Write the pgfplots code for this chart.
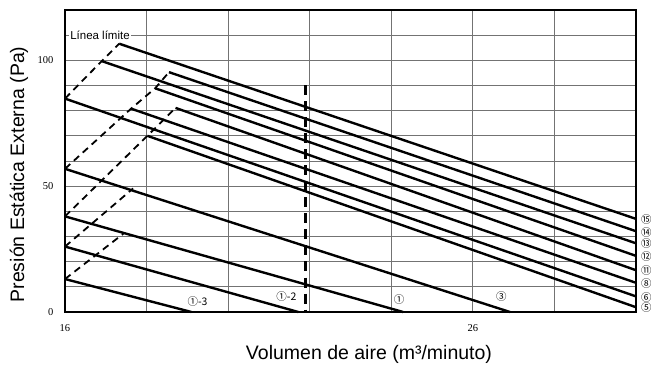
\documentclass[border=0pt]{standalone}
\usepackage{fontspec}
\setmainfont{Liberation Sans}
\newfontfamily\numfont{Liberation Serif}
\newfontfamily\circfont{Noto Sans CJK SC}
\usepackage{pgfplots}
\pgfplotsset{compat=1.18}

\tikzset{
  fan/.style={line width=2.4bp, black},
  limit/.style={line width=1.8bp, black, dash pattern=on 7bp off 5bp},
  lbl/.style={font=\circfont\fontsize{10.5bp}{12bp}\selectfont, inner sep=1bp},
}

\begin{document}
\begin{tikzpicture}
\path[use as bounding box] (-65bp,-60bp) rectangle (586bp,312bp);
\begin{axis}[
  at={(0,0)}, anchor=south west,
  width=571bp, height=302bp, scale only axis,
  xmin=16, xmax=30, ymin=0, ymax=120,
  xtick={16,18,...,30}, xticklabels={16,,,,,26,,},
  ytick={0,10,...,120}, yticklabels={0,,,,,50,,,,,100,,},
  major tick length=0pt,
  grid=major, grid style={black!55, line width=0.8bp},
  axis line style={line width=2.6bp},
  tick label style={font=\numfont\fontsize{10.5bp}{12bp}\selectfont},
  /pgf/number format/assume math mode=true,
  xticklabel style={yshift=-9bp},
  yticklabel style={xshift=-8bp},
  clip=false,
]
% curvas (de arriba a abajo en el extremo derecho)
\addplot[fan] coordinates {(17.33,106.6) (30,37.0)};   % 15
\addplot[fan] coordinates {(18.55,95.3) (30,32.1)};    % 14
\addplot[fan] coordinates {(16.9,99.7) (30,27.3)};     % 13
\addplot[fan] coordinates {(18.21,88.9) (30,22.3)};    % 12
\addplot[fan] coordinates {(18.71,81.1) (30,16.6)};    % 11
\addplot[fan] coordinates {(17.62,80.8) (30,11.6)};    % 8
\addplot[fan] coordinates {(16,84.8) (30,6.2)};        % 6
\addplot[fan] coordinates {(18.02,70.0) (30,1.9)};     % 5
\addplot[fan] coordinates {(16,56.9) (26.91,0)};       % 3
\addplot[fan] coordinates {(16,38.0) (24.29,0)};       % 1
\addplot[fan] coordinates {(16,26.0) (21.72,0)};       % 1-2
\addplot[fan] coordinates {(16,13.1) (19.1,0)};        % 1-3

% lineas limite
\addplot[limit] coordinates {(16,84.8) (16.9,99.7) (17.33,106.6)};
\addplot[limit] coordinates {(16,56.9) (17.62,80.8) (18.21,88.9) (18.55,95.3)};
\addplot[limit] coordinates {(16,38.0) (18.02,70.0) (18.71,81.1)};
\addplot[limit] coordinates {(16,26.0) (17.67,49.1)};
\addplot[limit] coordinates {(16,13.1) (17.43,31.1)};
\addplot[line width=3bp, black, dash pattern=on 10bp off 6bp] coordinates {(21.9,90) (21.9,0)};

\node[anchor=west, fill=white, inner sep=1bp, font=\fontsize{11.5bp}{13bp}\selectfont] at (axis cs:16.1,110) {Línea límite};

\node[lbl, anchor=west] at (axis cs:30,36.6) [xshift=4bp] {⑮};
\node[lbl, anchor=west] at (axis cs:30,31.7) [xshift=4bp] {⑭};
\node[lbl, anchor=west] at (axis cs:30,27.1) [xshift=4bp] {⑬};
\node[lbl, anchor=west] at (axis cs:30,22.1) [xshift=4bp] {⑫};
\node[lbl, anchor=west] at (axis cs:30,16.4) [xshift=4bp] {⑪};
\node[lbl, anchor=west] at (axis cs:30,11.5) [xshift=4bp] {⑧};
\node[lbl, anchor=west] at (axis cs:30,5.8) [xshift=4bp] {⑥};
\node[lbl, anchor=west] at (axis cs:30,1.8) [xshift=4bp] {⑤};

\node[lbl] at (axis cs:19.25,4.2) {①-3};
\node[lbl] at (axis cs:21.43,6.0) {①-2};
\node[lbl] at (axis cs:24.19,4.9) {①};
\node[lbl] at (axis cs:26.70,6.2) {③};
\end{axis}
\node[rotate=90, font=\fontsize{19.5bp}{22bp}\selectfont] at (-46bp,137.5bp) {Presión Estática Externa (Pa)};
\node[font=\fontsize{19.5bp}{22bp}\selectfont] at (304bp,-42bp) {Volumen de aire (m³/minuto)};
\end{tikzpicture}
\end{document}
